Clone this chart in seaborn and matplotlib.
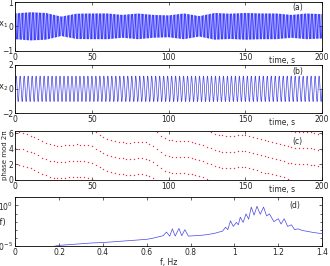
import matplotlib; matplotlib.use('Agg')
import numpy as np
import pandas as pd
import seaborn as sns
import matplotlib.pyplot as plt
from matplotlib.ticker import FixedLocator, NullFormatter

# (a) envelope of x1, read every 10 s, and carrier at the spectral peak
env_t = [0, 10, 20, 30, 40, 50, 60, 70, 80, 90, 100,
         110, 120, 130, 140, 150, 160, 170, 180, 190, 200]
env_x1 = [0.53, 0.58, 0.55, 0.40, 0.52, 0.53, 0.53, 0.47, 0.53, 0.47, 0.45,
          0.53, 0.42, 0.55, 0.52, 0.55, 0.53, 0.53, 0.47, 0.53, 0.50]
f_x1 = 1.1

# (b) x2: steady oscillation
amp_x2 = 1.05
f_x2 = 0.385

# (c) phase, one value every 2.5 s (unwrapped, top branch)
phase_t = [i * 2.5 for i in range(81)]
phase_theta = [6.20, 6.12, 6.00, 5.85, 5.70, 5.48, 5.22, 4.95, 4.72, 4.55,
               4.45, 4.41, 4.40, 4.42, 4.46, 4.52, 4.55, 4.54, 4.50, 4.42,
               4.30, 4.02, 3.70, 3.42, 3.20, 3.03, 2.90, 2.81, 2.75, 2.71,
               2.70, 2.72, 2.75, 2.77, 2.72, 2.55, 2.30, 1.92, 1.50, 1.15,
               0.95, 0.88, 0.86, 0.86, 0.86, 0.78, 0.66, 0.54, 0.43, 0.28,
               0.10, -0.12, -0.35, -0.48, -0.56, -0.60, -0.60, -0.57, -0.53, -0.50,
               -0.52, -0.62, -0.76, -0.90, -1.05, -1.18, -1.30, -1.40, -1.50, -1.65,
               -1.82, -1.98, -2.10, -2.16, -2.19, -2.20, -2.20, -2.25, -2.33, -2.42,
               -2.50]
n_branch = 3

# (d) spectrum, log10 S(f)
spec_f = [0.10, 0.15, 0.20, 0.25, 0.30, 0.35, 0.40, 0.45, 0.50, 0.55, 0.60,
          0.63, 0.66, 0.675, 0.69, 0.705, 0.717, 0.73, 0.747, 0.76, 0.774, 0.79,
          0.82, 0.85, 0.88, 0.91, 0.93, 0.945, 0.96, 0.97, 0.982, 0.995, 1.009,
          1.018, 1.027, 1.04, 1.053, 1.065, 1.077, 1.09, 1.103, 1.118, 1.133,
          1.147, 1.16, 1.18, 1.20, 1.213, 1.227, 1.243, 1.26, 1.275, 1.29,
          1.31, 1.33, 1.36, 1.40]
spec_log = [-5.6, -5.2, -4.95, -4.85, -4.75, -4.65, -4.6, -4.5, -4.4, -4.3, -4.2,
            -4.05, -3.85, -3.75, -3.3, -3.8, -2.9, -3.8, -2.85, -3.75, -3.0, -3.8,
            -3.75, -3.7, -3.6, -3.45, -3.3, -3.2, -2.7, -3.0, -1.9, -2.6, -2.1,
            -2.4, -1.45, -2.1, -1.05, -1.7, -0.2, -1.2, -0.1, -1.1, -0.2,
            -1.3, -1.05, -2.0, -1.65, -2.3, -1.65, -2.6, -2.4, -3.0, -2.9,
            -3.1, -3.2, -3.35, -3.5]

sns.set_theme(style='ticks')
plt.rcParams['font.family'] = ['DejaVu Sans']

t = np.arange(0, 200.001, 0.02)
x1 = np.interp(t, env_t, env_x1) * np.sin(2 * np.pi * f_x1 * t)
x2 = amp_x2 * np.sin(2 * np.pi * f_x2 * t)

fig = plt.figure(figsize=(3.3, 2.66), dpi=100)
left, width, h = 0.046, 0.930, 0.182
bottoms = [0.810, 0.575, 0.325, 0.076]
axes = [fig.add_axes([left, b, width, h]) for b in bottoms]

ax = axes[0]
sns.lineplot(x=t, y=x1, ax=ax, color='#1a1aff', linewidth=0.3, estimator=None, sort=False)
ax.set_ylim(-1, 1)
ax.set_yticks([-1, 0, 1])
ax.set_ylabel('x$_1$', rotation=0, fontsize=6)
ax.yaxis.set_label_coords(-0.04, 0.42)

ax = axes[1]
sns.lineplot(x=t, y=x2, ax=ax, color='#4646e6', linewidth=0.5, estimator=None, sort=False)
ax.set_ylim(-2, 2)
ax.set_yticks([-2, 0, 2])
ax.set_ylabel('x$_2$', rotation=0, fontsize=6)
ax.yaxis.set_label_coords(-0.04, 0.42)

ax = axes[2]
rows = []
for k in range(n_branch):
    for tt, th in zip(phase_t, phase_theta):
        rows.append((tt, (th + k * 2 * np.pi / n_branch) % (2 * np.pi)))
ph = pd.DataFrame(rows, columns=['t', 'phase'])
sns.scatterplot(data=ph, x='t', y='phase', ax=ax, color='#e8304a', s=1.0, linewidth=0)
ax.set_ylim(0, 2 * np.pi)
ax.set_yticks([0, 2, 4, 6])
ax.set_ylabel('phase mod 2π', fontsize=5, labelpad=1)
ax.yaxis.set_label_coords(-0.024, 0.5)

for ax in axes[:3]:
    ax.set_xlim(0, 200)
    ax.set_xticks([0, 50, 100, 150, 200])
    ax.text(0.87, -0.2, 'time, s', transform=ax.transAxes, fontsize=5.5,
            ha='center', va='center')

ax = axes[3]
sns.lineplot(x=spec_f, y=[10 ** v for v in spec_log], ax=ax, color='#4646e6',
             linewidth=0.5, estimator=None, sort=False)
ax.set_yscale('log')
ax.set_ylim(1e-5, 1e1)
ax.set_xlim(0, 1.4)
ax.set_xticks([0, 0.2, 0.4, 0.6, 0.8, 1, 1.2, 1.4])
ax.set_xticklabels(['0', '0.2', '0.4', '0.6', '0.8', '1', '1.2', '1.4'])
ax.yaxis.set_major_locator(FixedLocator([1e-5, 1e0]))
ax.yaxis.set_minor_locator(FixedLocator([1e-4, 1e-3, 1e-2, 1e-1, 1e1]))
ax.yaxis.set_minor_formatter(NullFormatter())
ax.set_ylabel('S(f)', rotation=0, fontsize=6)
ax.yaxis.set_label_coords(-0.052, 0.38)
ax.set_xlabel('f, Hz', fontsize=5.5, labelpad=1)

for ax, lab, (lx, ly) in zip(axes, ['(a)', '(b)', '(c)', '(d)'],
                             [(0.92, 0.88), (0.92, 0.85), (0.92, 0.78), (0.91, 0.83)]):
    ax.text(lx, ly, lab, transform=ax.transAxes, fontsize=5.5, ha='center', va='center')
    ax.tick_params(which='both', direction='in', top=True, right=True,
                   labelsize=5.5, pad=1.5, width=0.5)
    ax.tick_params(which='major', length=2.2)
    ax.tick_params(which='minor', length=1.3)
    for sp in ax.spines.values():
        sp.set_linewidth(0.6)
        sp.set_color('black')

fig.savefig('out.png', dpi=100)
